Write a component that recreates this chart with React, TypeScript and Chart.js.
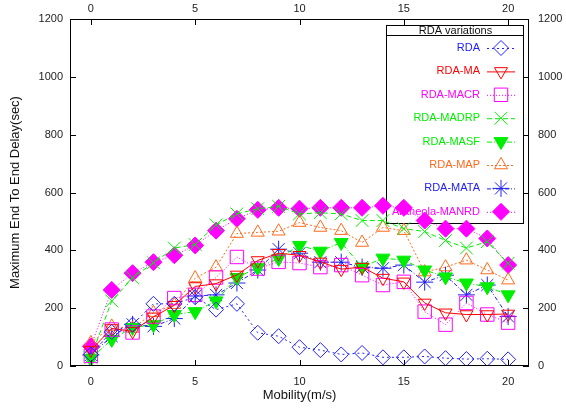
import { useEffect, useRef } from 'react';
import { Chart, registerables } from 'chart.js';
import { drawPoint } from 'chart.js/helpers';

Chart.register(...registerables);

// Mobility (m/s) on the x axis
const mobility = [0, 1, 2, 3, 4, 5, 6, 7, 8, 9, 10, 11, 12, 13, 14, 15, 16, 17, 18, 19, 20];

// Maximum end-to-end delay (sec) per protocol variation
const rda = [40, 118, 143, 215, 215, 238, 195, 215, 115, 103, 65, 55, 40, 45, 30, 30, 33, 27, 24, 25, 23];
const rdaMa = [55, 130, 120, 170, 210, 275, 285, 315, 365, 390, 383, 360, 335, 342, 304, 291, 218, 184, 178, 178, 180];
const rdaMacr = [35, 126, 116, 171, 235, 246, 306, 377, 337, 360, 356, 342, 349, 314, 280, 291, 188, 143, 218, 178, 150];
const rdaMadrp = [30, 225, 305, 357, 408, 420, 488, 526, 544, 552, 526, 530, 526, 503, 503, 475, 465, 434, 408, 430, 355];
const rdaMasf = [25, 92, 133, 143, 178, 188, 225, 306, 340, 372, 417, 397, 427, 342, 373, 366, 332, 308, 287, 274, 246];
const rdaMap = [80, 137, 130, 184, 212, 304, 342, 458, 462, 466, 496, 479, 468, 427, 479, 468, 325, 342, 366, 332, 297];
const rdaMata = [38, 103, 144, 137, 164, 242, 246, 287, 332, 404, 390, 359, 359, 342, 338, 349, 290, 314, 246, 280, 171];
const araneolaManrd = [68, 263, 321, 359, 383, 417, 468, 509, 540, 547, 544, 547, 547, 547, 554, 547, 503, 475, 475, 441, 349];

const xTicks = [0, 5, 10, 15, 20];
const yTicks = [0, 200, 400, 600, 800, 1000, 1200];

const legendTitle = 'RDA variations';
const xTitle = 'Mobility(m/s)';
const yTitle = 'Maximum End To End Delay(sec)';

const FONT = '"Liberation Sans", Arial, sans-serif';

type SeriesDef = {
  label: string;
  values: number[];
  color: string;
  dash: number[];
  pointStyle: string;
  radius: number;
  rotation: number;
  filled: boolean;
};

const series: SeriesDef[] = [
  { label: 'RDA', values: rda, color: '#2020ff', dash: [2, 3], pointStyle: 'rectRot', radius: 7.5, rotation: 0, filled: false },
  { label: 'RDA-MA', values: rdaMa, color: '#ff0000', dash: [], pointStyle: 'triangle', radius: 7.5, rotation: 180, filled: false },
  { label: 'RDA-MACR', values: rdaMacr, color: '#ff00ff', dash: [1, 2], pointStyle: 'rect', radius: 9.5, rotation: 0, filled: false },
  { label: 'RDA-MADRP', values: rdaMadrp, color: '#00ee00', dash: [5, 3], pointStyle: 'crossRot', radius: 9, rotation: 0, filled: false },
  { label: 'RDA-MASF', values: rdaMasf, color: '#00ee00', dash: [5, 2, 1, 2], pointStyle: 'triangle', radius: 8, rotation: 180, filled: true },
  { label: 'RDA-MAP', values: rdaMap, color: '#ff6a1a', dash: [2, 2], pointStyle: 'triangle', radius: 7.5, rotation: 0, filled: false },
  { label: 'RDA-MATA', values: rdaMata, color: '#2020ee', dash: [4, 2, 1, 2], pointStyle: 'star', radius: 8.5, rotation: 0, filled: false },
  { label: 'Araneola-MANRD', values: araneolaManrd, color: '#ff00ff', dash: [1, 2], pointStyle: 'rectRot', radius: 8.5, rotation: 0, filled: true },
];

const fixedTicks = (values: number[]) => (scale: any) => {
  scale.ticks = values.map((v) => ({ value: v }));
};

const plainLabel = (v: any) => String(v);

const framePlugin = {
  id: 'gnuplotFrame',
  beforeDatasetsDraw(chart: any) {
    const ctx = chart.ctx as CanvasRenderingContext2D;
    ctx.save();
    // key box with header row
    const bx = 386, by = 25, bw = 137, bh = 198;
    ctx.strokeStyle = '#000';
    ctx.lineWidth = 1;
    ctx.strokeRect(bx + 0.5, by + 0.5, bw, bh);
    ctx.beginPath();
    ctx.moveTo(bx, 35.5);
    ctx.lineTo(bx + bw, 35.5);
    ctx.stroke();
    ctx.font = `11px ${FONT}`;
    ctx.fillStyle = '#111';
    ctx.textAlign = 'center';
    ctx.textBaseline = 'middle';
    ctx.fillText(legendTitle, bx + bw / 2 + 1, 30.5);

    series.forEach((s, i) => {
      const y = 48 + i * 23.4;
      ctx.fillStyle = s.color;
      ctx.textAlign = 'right';
      ctx.fillText(s.label, 480, y);
      ctx.strokeStyle = s.color;
      ctx.setLineDash(s.dash);
      ctx.beginPath();
      ctx.moveTo(487, y + 0.5);
      ctx.lineTo(515, y + 0.5);
      ctx.stroke();
      ctx.setLineDash([]);
      ctx.fillStyle = s.filled ? s.color : 'rgba(0,0,0,0)';
      drawPoint(ctx, { pointStyle: s.pointStyle, rotation: s.rotation, radius: s.radius, borderWidth: 1 } as any, 501, y);
    });
    ctx.restore();
  },
  afterDraw(chart: any) {
    const ctx = chart.ctx as CanvasRenderingContext2D;
    const { left, right, top, bottom } = chart.chartArea;
    const sx = chart.scales.x;
    const sy = chart.scales.y;
    ctx.save();
    ctx.strokeStyle = '#000';
    ctx.lineWidth = 1;
    ctx.strokeRect(left + 0.5, top + 0.5, right - left - 1, bottom - top - 1);
    ctx.beginPath();
    xTicks.forEach((v) => {
      const px = Math.round(sx.getPixelForValue(v)) + 0.5;
      ctx.moveTo(px, bottom);
      ctx.lineTo(px, bottom - 6);
      ctx.moveTo(px, top);
      ctx.lineTo(px, top + 6);
    });
    yTicks.forEach((v) => {
      const py = Math.round(sy.getPixelForValue(v)) + 0.5;
      ctx.moveTo(left, py);
      ctx.lineTo(left + 6, py);
      ctx.moveTo(right, py);
      ctx.lineTo(right - 6, py);
    });
    ctx.stroke();

    ctx.fillStyle = '#111';
    ctx.font = `13px ${FONT}`;
    ctx.textAlign = 'center';
    ctx.textBaseline = 'middle';
    ctx.fillText(xTitle, (left + right) / 2, 395);
    ctx.translate(15, (top + bottom) / 2);
    ctx.rotate(-Math.PI / 2);
    ctx.fillText(yTitle, 0, 0);
    ctx.restore();
  },
};

export default function App() {
  const canvasRef = useRef<HTMLCanvasElement | null>(null);

  useEffect(() => {
    const canvas = canvasRef.current;
    if (!canvas) return;
    const tickFont = { family: FONT, size: 11 };
    const chart = new Chart(canvas, {
      type: 'line',
      data: {
        datasets: series.map((s) => ({
          label: s.label,
          data: mobility.map((m, i) => ({ x: m, y: s.values[i] })),
          borderColor: s.color,
          borderWidth: 1,
          borderDash: s.dash,
          pointStyle: s.pointStyle as any,
          pointRadius: s.radius,
          pointRotation: s.rotation,
          pointBorderColor: s.color,
          pointBackgroundColor: s.filled ? s.color : 'rgba(0,0,0,0)',
          pointBorderWidth: 1,
          tension: 0,
          fill: false,
          xAxisID: 'x',
          yAxisID: 'y',
        })),
      },
      options: {
        responsive: false,
        animation: false,
        events: [],
        layout: { padding: 0 },
        plugins: { legend: { display: false }, tooltip: { enabled: false } },
        scales: {
          x: {
            type: 'linear', position: 'bottom', min: -1, max: 21,
            afterBuildTicks: fixedTicks(xTicks),
            afterFit: (s: any) => { s.height = 45; },
            grid: { display: false, drawTicks: false }, border: { display: false },
            ticks: { font: tickFont, color: '#222', padding: 9, maxRotation: 0, callback: plainLabel },
          },
          x2: {
            type: 'linear', position: 'top', min: -1, max: 21, display: true,
            afterBuildTicks: fixedTicks(xTicks),
            afterFit: (s: any) => { s.height = 19; },
            grid: { display: false, drawTicks: false }, border: { display: false },
            ticks: { font: tickFont, color: '#222', padding: 3, maxRotation: 0, callback: plainLabel },
          },
          y: {
            type: 'linear', position: 'left', min: 0, max: 1200,
            afterBuildTicks: fixedTicks(yTicks),
            afterFit: (s: any) => { s.width = 70; },
            grid: { display: false, drawTicks: false }, border: { display: false },
            ticks: { font: tickFont, color: '#222', padding: 7, callback: plainLabel },
          },
          y2: {
            type: 'linear', position: 'right', min: 0, max: 1200, display: true,
            afterBuildTicks: fixedTicks(yTicks),
            afterFit: (s: any) => { s.width = 37; },
            grid: { display: false, drawTicks: false }, border: { display: false },
            ticks: { font: tickFont, color: '#222', padding: 9, callback: plainLabel },
          },
        },
      },
      plugins: [framePlugin],
    });
    return () => chart.destroy();
  }, []);

  return (
    <div style={{ position: 'fixed', left: 0, top: 0, width: 566, height: 411, background: '#fff' }}>
      <canvas ref={canvasRef} width={566} height={411} style={{ display: 'block' }} />
    </div>
  );
}
